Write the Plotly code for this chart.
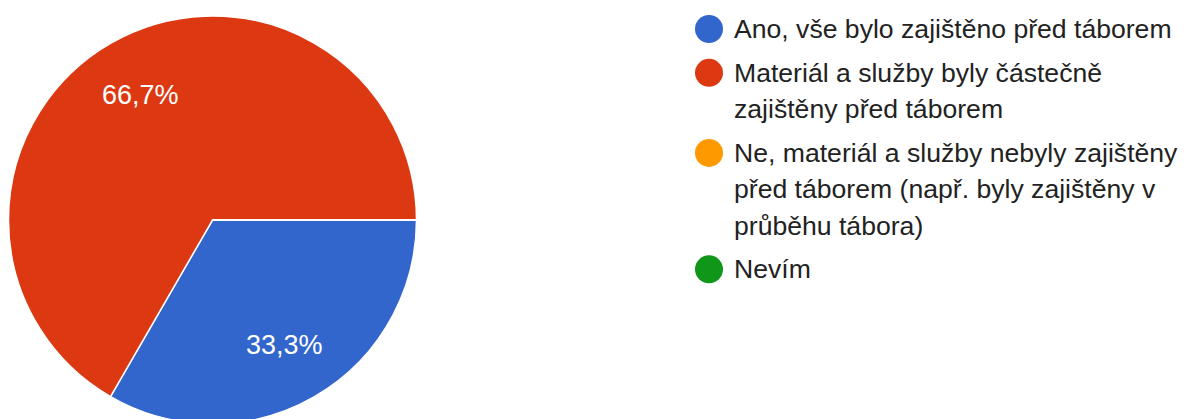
import math
import plotly.graph_objects as go

labels = [
    "Ano, vše bylo zajištěno před táborem",
    "Materiál a služby byly částečně zajištěny před táborem",
    "Ne, materiál a služby nebyly zajištěny před táborem (např. byly zajištěny v průběhu tábora)",
    "Nevím",
]
legend_lines = [
    ["Ano, vše bylo zajištěno před táborem"],
    ["Materiál a služby byly částečně", "zajištěny před táborem"],
    ["Ne, materiál a služby nebyly zajištěny", "před táborem (např. byly zajištěny v", "průběhu tábora)"],
    ["Nevím"],
]
values = [1, 2, 0, 0]
colors = ["#3366CC", "#DC3912", "#FF9900", "#109618"]

W, H = 1192, 419
OFF = 8  # page body margin
FONT = "Arial, Liberation Sans, sans-serif"

fig = go.Figure()

# pie geometry in pixels (figure coordinates)
cx, cy, r = 212.5 - OFF, 220 - OFF, 204
fig.add_trace(go.Pie(
    labels=labels, values=values, sort=False, direction="clockwise", rotation=90,
    marker=dict(colors=colors, line=dict(color="white", width=1.5)),
    textinfo="none",
    domain=dict(x=[(cx - r) / W, (cx + r) / W], y=[1 - (cy + r) / H, 1 - (cy - r) / H]),
    showlegend=False, hoverinfo="label+percent",
))

annotations = []

# slice percentage labels placed at 0.71 R along each slice's mid angle
total = sum(values)
cum = 0
for v in values:
    if v > 0:
        mid = math.radians((cum + v / 2) / total * 360)
        annotations.append(dict(
            x=cx + 0.71 * r * math.cos(mid), y=cy + 0.71 * r * math.sin(mid),
            xref="x", yref="y", text=f"{v / total * 100:.1f}%".replace(".", ","),
            showarrow=False, xanchor="center", yanchor="middle",
            font=dict(family=FONT, size=27, color="white"),
        ))
    cum += v

# custom legend
line_h = 36.3
item_gap = 7.5
y = 29 - OFF
ys = []
for lines in legend_lines:
    ys.append(y)
    y += len(lines) * line_h + item_gap

fig.add_trace(go.Scatter(
    x=[709 - OFF] * len(labels), y=ys, mode="markers",
    marker=dict(size=28, color=colors, line=dict(width=0)),
    showlegend=False, hoverinfo="skip",
))

for lines, yy in zip(legend_lines, ys):
    for k, t in enumerate(lines):
        annotations.append(dict(
            x=735 - OFF - 3, y=yy + k * line_h, xref="x", yref="y", text=t, showarrow=False,
            xanchor="left", yanchor="middle", align="left",
            font=dict(family=FONT, size=26.6, color="#222222"),
        ))

fig.update_layout(
    width=W, height=H, margin=dict(l=0, r=0, t=0, b=0),
    paper_bgcolor="white", plot_bgcolor="white",
    xaxis=dict(range=[0, W], visible=False, fixedrange=True),
    yaxis=dict(range=[H, 0], visible=False, fixedrange=True),
    annotations=annotations,
)

fig.write_html("out.html")
